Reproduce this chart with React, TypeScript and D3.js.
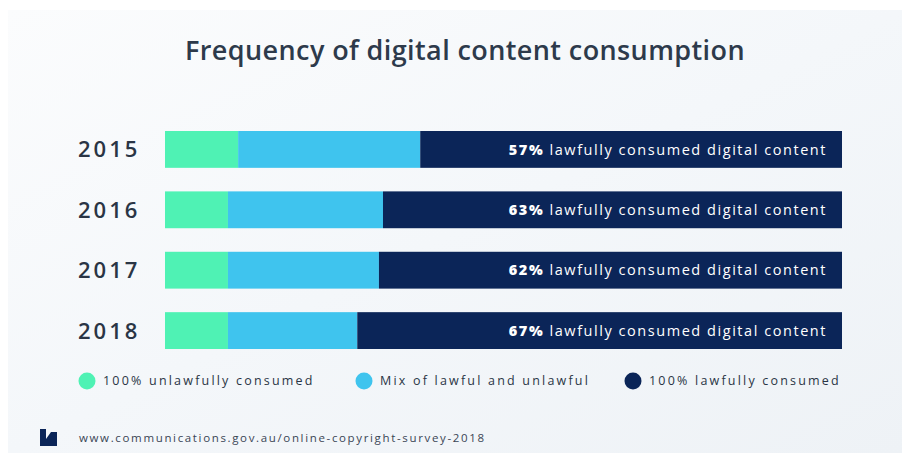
import React from "react";
import * as d3 from "d3";

const years = ["2015", "2016", "2017", "2018"];
const unlawful = [10.8, 9.3, 9.3, 9.3];
const mixed = [26.9, 22.9, 22.3, 19.1];
const lawful = [62.3, 67.8, 68.4, 71.6];
const lawfulLabels = ["57%", "63%", "62%", "67%"];
const seriesNames = ["100% unlawfully consumed", "Mix of lawful and unlawful", "100% lawfully consumed"];
const colors = ["#4ff2b4", "#3fc4ee", "#0b2558"];
const title = "Frequency of digital content consumption";
const source = "www.communications.gov.au/online-copyright-survey-2018";

export default function App() {
  const W = 910, H = 461;
  const x = d3.scaleLinear().domain([0, 100]).range([165, 842]);
  const y = d3.scaleBand().domain(years).range([131, 349]).paddingInner(0.39).paddingOuter(0);
  const rows = years.map((yr, i) => ({ year: yr, unlawful: unlawful[i], mixed: mixed[i], lawful: lawful[i] }));
  const stack = d3.stack<any>().keys(["unlawful", "mixed", "lawful"])(rows);
  const legendX = [87, 364, 633];
  const font = "'Open Sans', 'DejaVu Sans', sans-serif";
  return (
    <svg width={W} height={H} style={{ position: "absolute", left: 0, top: 0, fontFamily: font }}>
      <defs>
        <linearGradient id="bg" x1="0" y1="0" x2="1" y2="1">
          <stop offset="0" stopColor="#fbfcfd" />
          <stop offset="0.5" stopColor="#f4f7fa" />
          <stop offset="1" stopColor="#eef2f6" />
        </linearGradient>
      </defs>
      <rect x={0} y={0} width={W} height={H} fill="#ffffff" />
      <rect x={8} y={10} width={W - 16} height={H - 18} fill="url(#bg)" />
      <text x={465} y={60} textAnchor="middle" fontSize={27} fontWeight={600} letterSpacing={0.4} fill="#2d3a4b">{title}</text>
      {stack.map((layer, li) => (
        <g key={li} fill={colors[li]}>
          {layer.map((d, i) => (
            <rect key={i} x={x(d[0])} y={y(years[i])} width={x(d[1]) - x(d[0])} height={y.bandwidth()} />
          ))}
        </g>
      ))}
      {years.map((yr, i) => (
        <g key={yr}>
          <text x={78} y={(y(yr) as number) + y.bandwidth() / 2} dy="0.36em" fontSize={22} fontWeight={600} letterSpacing={3} fill="#2a3545">{yr}</text>
          <text x={827} y={(y(yr) as number) + y.bandwidth() / 2} dy="0.36em" textAnchor="end" fontSize={14.5} letterSpacing={1.55} fill="#ffffff">
            <tspan fontWeight={800}>{lawfulLabels[i]}</tspan>
            <tspan fontWeight={400}> lawfully consumed digital content</tspan>
          </text>
        </g>
      ))}
      {seriesNames.map((n, i) => (
        <g key={n}>
          <circle cx={legendX[i]} cy={381} r={8.5} fill={colors[i]} />
          <text x={legendX[i] + 16} y={381} dy="0.35em" fontSize={12.5} letterSpacing={2.2} fill="#2a3545">{n}</text>
        </g>
      ))}
      <path d="M40,429 L46,429 L46,439 L51,432 L57,432 L57,446 L40,446 Z" fill="#0b2558" />
      <text x={79} y={438} dy="0.35em" fontSize={11.5} letterSpacing={1.65} fill="#3a4555">{source}</text>
    </svg>
  );
}
